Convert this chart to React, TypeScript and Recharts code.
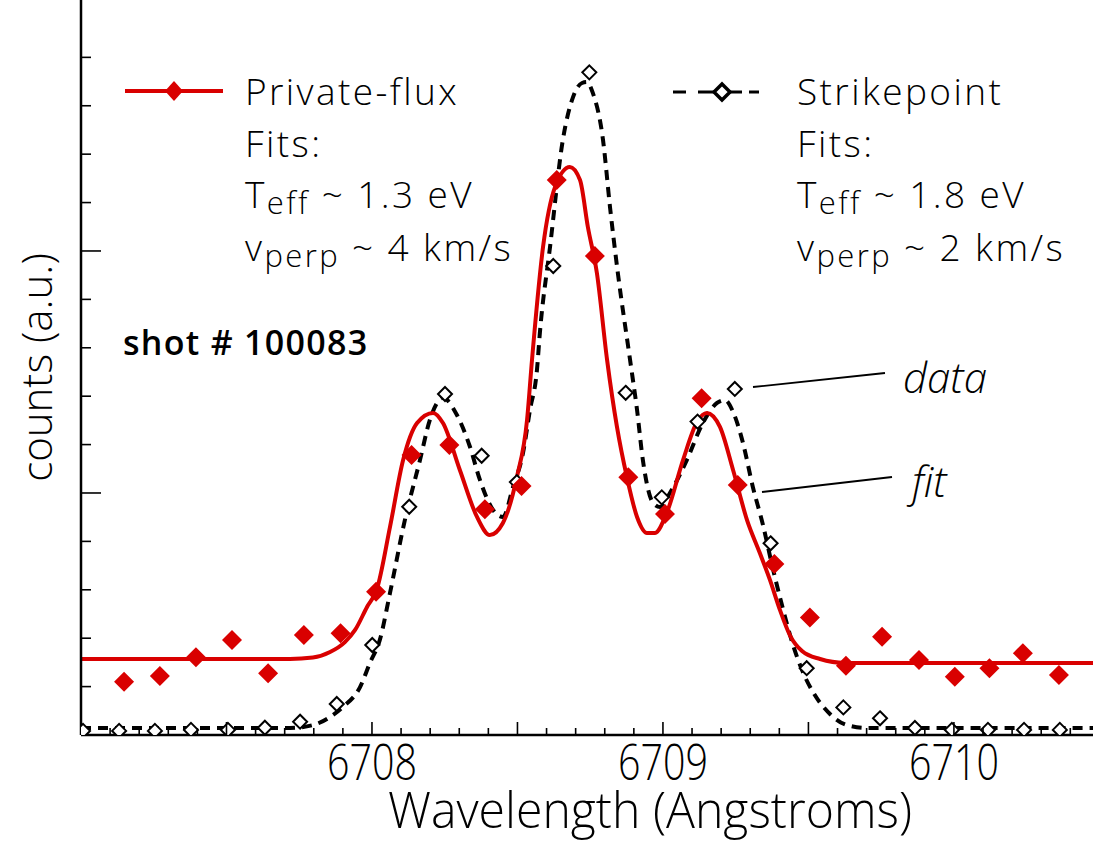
import React from 'react';
import { ComposedChart, Line, Scatter, XAxis, YAxis } from 'recharts';

const RED = '#d90000';

// Private-flux data (filled red diamonds)
const privateWavelength = [6707.148, 6707.271, 6707.395, 6707.519, 6707.643, 6707.766, 6707.892, 6708.014, 6708.136, 6708.266, 6708.388, 6708.514, 6708.635, 6708.766, 6708.881, 6709.007, 6709.133, 6709.257, 6709.383, 6709.505, 6709.629, 6709.753, 6709.880, 6710.003, 6710.122, 6710.237, 6710.361];
const privateCounts = [0.220, 0.244, 0.321, 0.393, 0.255, 0.413, 0.420, 0.592, 1.157, 1.198, 0.933, 1.029, 2.293, 1.979, 1.065, 0.913, 1.391, 1.033, 0.707, 0.486, 0.286, 0.406, 0.310, 0.241, 0.276, 0.338, 0.248];

// Strikepoint data (open black diamonds)
const strikeWavelength = [6707.007, 6707.131, 6707.254, 6707.378, 6707.505, 6707.632, 6707.753, 6707.879, 6708.001, 6708.128, 6708.251, 6708.377, 6708.498, 6708.623, 6708.747, 6708.872, 6708.996, 6709.119, 6709.247, 6709.370, 6709.494, 6709.620, 6709.746, 6709.866, 6709.993, 6710.117, 6710.241, 6710.364];
const strikeCounts = [0.017, 0.017, 0.017, 0.021, 0.021, 0.030, 0.055, 0.128, 0.372, 0.943, 1.409, 1.154, 1.045, 1.938, 2.738, 1.414, 0.982, 1.295, 1.430, 0.792, 0.276, 0.114, 0.069, 0.029, 0.021, 0.021, 0.021, 0.021];

// Private-flux fit (solid red)
const privateFitWavelength = [6707.000, 6707.718, 6707.797, 6707.856, 6707.907, 6707.942, 6707.983, 6708.017, 6708.062, 6708.107, 6708.155, 6708.210, 6708.244, 6708.302, 6708.361, 6708.405, 6708.450, 6708.498, 6708.533, 6708.550, 6708.588, 6708.629, 6708.680, 6708.715, 6708.742, 6708.773, 6708.808, 6708.842, 6708.876, 6708.911, 6708.945, 6708.973, 6709.014, 6709.069, 6709.117, 6709.151, 6709.196, 6709.241, 6709.289, 6709.333, 6709.368, 6709.402, 6709.436, 6709.478, 6709.540, 6709.625, 6710.478];
const privateFitCounts = [0.314, 0.314, 0.320, 0.343, 0.384, 0.434, 0.529, 0.603, 0.860, 1.136, 1.289, 1.331, 1.289, 1.095, 0.901, 0.826, 0.876, 1.066, 1.302, 1.550, 2.017, 2.264, 2.347, 2.293, 2.099, 1.909, 1.550, 1.273, 1.066, 0.901, 0.835, 0.835, 0.921, 1.136, 1.293, 1.331, 1.273, 1.095, 0.888, 0.752, 0.640, 0.517, 0.413, 0.347, 0.314, 0.298, 0.298];

// Strikepoint fit (dashed black)
const strikeFitWavelength = [6707.000, 6707.718, 6707.797, 6707.866, 6707.900, 6707.959, 6707.993, 6708.027, 6708.062, 6708.113, 6708.165, 6708.199, 6708.244, 6708.292, 6708.337, 6708.371, 6708.416, 6708.450, 6708.485, 6708.519, 6708.543, 6708.567, 6708.577, 6708.612, 6708.656, 6708.691, 6708.722, 6708.739, 6708.759, 6708.794, 6708.818, 6708.845, 6708.887, 6708.911, 6708.931, 6708.966, 6708.990, 6709.024, 6709.082, 6709.137, 6709.186, 6709.213, 6709.241, 6709.275, 6709.309, 6709.344, 6709.375, 6709.409, 6709.447, 6709.481, 6709.522, 6709.574, 6709.632, 6709.701, 6710.478];
const strikeFitCounts = [0.029, 0.029, 0.041, 0.083, 0.116, 0.198, 0.298, 0.393, 0.587, 0.888, 1.136, 1.302, 1.393, 1.322, 1.190, 1.054, 0.930, 0.901, 1.025, 1.165, 1.343, 1.508, 1.661, 2.017, 2.459, 2.636, 2.694, 2.698, 2.653, 2.459, 2.182, 1.909, 1.550, 1.343, 1.136, 0.959, 0.942, 1.000, 1.136, 1.289, 1.372, 1.384, 1.335, 1.207, 1.025, 0.867, 0.702, 0.537, 0.372, 0.260, 0.165, 0.087, 0.041, 0.029, 0.029];

const xDomain = [6707.0, 6710.478];
const yDomain = [0, 3.037];
const xTicks = [6707.1, 6707.2, 6707.3, 6707.4, 6707.5, 6707.6, 6707.7, 6707.8, 6707.9, 6708.0, 6708.1, 6708.2, 6708.3, 6708.4, 6708.5, 6708.6, 6708.7, 6708.8, 6708.9, 6709.0, 6709.1, 6709.2, 6709.3, 6709.4, 6709.5, 6709.6, 6709.7, 6709.8, 6709.9, 6710.0, 6710.1, 6710.2, 6710.3, 6710.4];
const xTickLabels = ['6708', '6709', '6710'];
const yTicks = [0.2, 0.4, 0.6, 0.8, 1.0, 1.2, 1.4, 1.6, 1.8, 2.0, 2.2, 2.4, 2.6, 2.8];
const yRightTicks = [1, 2];

const zip = (xs: number[], ys: number[]) => xs.map((x, i) => ({ x, y: ys[i] }));
const privateData = zip(privateWavelength, privateCounts);
const strikeData = zip(strikeWavelength, strikeCounts);
const privateFit = zip(privateFitWavelength, privateFitCounts);
const strikeFit = zip(strikeFitWavelength, strikeFitCounts);

const TEXT_FONT = "'Open Sans', 'DejaVu Sans', sans-serif";

const near = (a: number, b: number) => Math.abs(a - b) < 1e-6;

const XTick = (props: any) => {
  const { x, y, payload } = props;
  const v = payload.value as number;
  const isHalf = near(v * 2, Math.round(v * 2));
  const label = xTickLabels.find((l) => near(Number(l), v));
  const len = isHalf ? 13 : 7;
  return (
    <g>
      <line x1={x} y1={y} x2={x} y2={y - len} stroke="#000" strokeWidth={1.6} />
      {label && (
        <text x={x} y={y + 45} textAnchor="middle" fontFamily={TEXT_FONT} fontWeight={300} fontSize={50} fill="#000" textLength={90} lengthAdjust="spacingAndGlyphs">
          {label}
        </text>
      )}
    </g>
  );
};

const YTick = (props: any) => {
  const { x, y, payload } = props;
  const v = payload.value as number;
  const len = near(v, Math.round(v)) ? 20 : 10;
  return <line x1={x} y1={y} x2={x + len} y2={y} stroke="#000" strokeWidth={1.6} />;
};

const YRightTick = (props: any) => {
  const { x, y } = props;
  return <line x1={x} y1={y} x2={x - 9} y2={y} stroke="#000" strokeWidth={1.6} />;
};

const RedDiamond = (props: any) => {
  const { cx, cy } = props;
  const r = 10;
  return <polygon points={`${cx},${cy - r} ${cx + r},${cy} ${cx},${cy + r} ${cx - r},${cy}`} fill={RED} />;
};

const OpenDiamond = (props: any) => {
  const { cx, cy } = props;
  const r = 7;
  return <polygon points={`${cx},${cy - r} ${cx + r},${cy} ${cx},${cy + r} ${cx - r},${cy}`} fill="#fff" stroke="#000" strokeWidth={2} />;
};

const XTitle = (props: any) => {
  const vb = props.viewBox || { x: 81, y: 735, width: 1012, height: 100 };
  const cx = vb.x + vb.width / 2 + 63;
  return (
    <text x={cx} y={vb.y + 93} textAnchor="middle" fontFamily={TEXT_FONT} fontWeight={300} fontSize={50} fill="#000" textLength={524} lengthAdjust="spacingAndGlyphs">
      Wavelength (Angstroms)
    </text>
  );
};

const YTitle = (props: any) => {
  const vb = props.viewBox || { x: 0, y: 0, width: 81, height: 735 };
  const tx = vb.x + 52;
  const ty = vb.y + vb.height / 2;
  return (
    <text x={tx} y={ty} transform={`rotate(-90 ${tx} ${ty})`} textAnchor="middle" fontFamily={TEXT_FONT} fontWeight={300} fontSize={42} fill="#000">
      counts (a.u.)
    </text>
  );
};

const LegendBlock = ({ x, title, t, v }: { x: number; title: string; t: string; v: string }) => (
  <g fontFamily={TEXT_FONT} fontWeight={300} fontSize={37} fill="#000" letterSpacing={2.4}>
    <text x={x} y={105}>{title}</text>
    <text x={x} y={157}>Fits:</text>
    <text x={x} y={208}>
      T<tspan fontSize={31} dy={6}>eff</tspan>
      <tspan dy={-6}>{` ~ ${t}`}</tspan>
    </text>
    <text x={x} y={261}>
      v<tspan fontSize={31} dy={6}>perp</tspan>
      <tspan dy={-6}>{` ~ ${v}`}</tspan>
    </text>
  </g>
);

export default function App() {
  return (
    <div style={{ position: 'absolute', left: 0, top: 0, width: 1093, height: 843, background: '#fff', overflow: 'hidden' }}>
      <ComposedChart width={1093} height={843} margin={{ top: 0, right: 0, left: 0, bottom: 8 }}>
        <XAxis
          xAxisId="x"
          type="number"
          dataKey="x"
          domain={xDomain}
          allowDataOverflow
          ticks={xTicks}
          interval={0}
          tick={<XTick />}
          tickLine={false}
          tickSize={0}
          tickMargin={0}
          height={100}
          axisLine={{ stroke: '#000', strokeWidth: 2.5 }}
          label={{ content: <XTitle /> }}
        />
        <YAxis
          yAxisId="l"
          type="number"
          dataKey="y"
          domain={yDomain}
          allowDataOverflow
          ticks={yTicks}
          interval={0}
          tick={<YTick />}
          tickLine={false}
          tickSize={0}
          tickMargin={0}
          width={81}
          axisLine={{ stroke: '#000', strokeWidth: 2.5 }}
          label={{ content: <YTitle /> }}
        />
        <YAxis
          yAxisId="r"
          orientation="right"
          type="number"
          domain={yDomain}
          allowDataOverflow
          ticks={yRightTicks}
          interval={0}
          tick={<YRightTick />}
          tickLine={false}
          tickSize={0}
          tickMargin={0}
          width={0}
          axisLine={false}
        />
        <Line xAxisId="x" yAxisId="l" data={strikeFit} dataKey="y" type="monotone" stroke="#000" strokeWidth={4} strokeDasharray="10 7" dot={false} isAnimationActive={false} />
        <Scatter xAxisId="x" yAxisId="l" data={strikeData} dataKey="y" shape={<OpenDiamond />} isAnimationActive={false} />
        <Line xAxisId="x" yAxisId="l" data={privateFit} dataKey="y" type="monotone" stroke={RED} strokeWidth={4} dot={false} isAnimationActive={false} />
        <Scatter xAxisId="x" yAxisId="l" data={privateData} dataKey="y" shape={<RedDiamond />} isAnimationActive={false} />
      </ComposedChart>
      <svg width={1093} height={843} style={{ position: 'absolute', left: 0, top: 0, pointerEvents: 'none' }}>
        <line x1={125} y1={91} x2={223} y2={91} stroke={RED} strokeWidth={4} />
        <polygon points="174,81 183,91 174,101 165,91" fill={RED} />
        <LegendBlock x={245} title="Private-flux" t="1.3 eV" v="4 km/s" />
        <line x1={673} y1={92} x2={686} y2={92} stroke="#000" strokeWidth={3} />
        <line x1={698} y1={92} x2={742} y2={92} stroke="#000" strokeWidth={3} />
        <line x1={749} y1={92} x2={759} y2={92} stroke="#000" strokeWidth={3} />
        <polygon points="722,84 730,92 722,100 714,92" fill="#fff" stroke="#000" strokeWidth={3.5} />
        <LegendBlock x={797} title="Strikepoint" t="1.8 eV" v="2 km/s" />
        <text x={123} y={355} fontFamily={TEXT_FONT} fontWeight={600} fontSize={34} letterSpacing={1.3} fill="#000">shot # 100083</text>
        <line x1={753} y1={387} x2={885} y2={373} stroke="#000" strokeWidth={1.8} />
        <text x={903} y={393} fontFamily={TEXT_FONT} fontWeight={300} fontStyle="italic" fontSize={42} fill="#000">data</text>
        <line x1={762} y1={492} x2={892} y2={477} stroke="#000" strokeWidth={1.8} />
        <text x={912} y={497} fontFamily={TEXT_FONT} fontWeight={300} fontStyle="italic" fontSize={42} fill="#000">fit</text>
      </svg>
    </div>
  );
}
